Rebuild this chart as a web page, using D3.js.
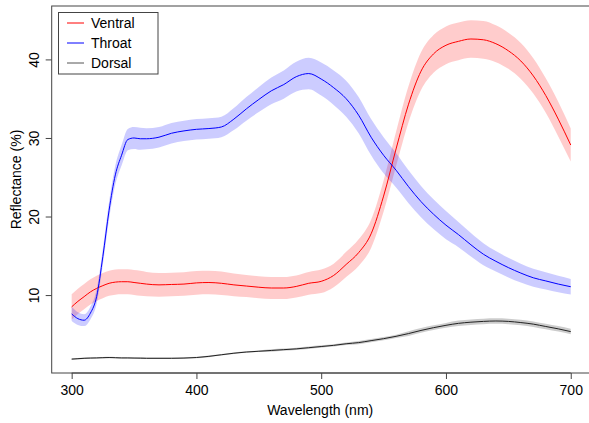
<!DOCTYPE html>
<meta charset="utf-8">
<head>
  <title>Reflectance spectra</title>
</head>

<style>
body { margin: 0; background: #fff; }
text {
  font-family: "Liberation Sans", Arial, Helvetica, sans-serif;
  font-size: 14px;
  fill: #000;
}
</style>

<body>
  <svg width="589" height="423"></svg>

  <script src="https://cdnjs.cloudflare.com/ajax/libs/d3/7.8.5/d3.min.js"></script>
  <script>
// wavelengths (nm), finer steps where the throat curve rises
var wavelength = [300,305,310,315,320,325,330,335,340,345,350,355,360,370,380,390,400,410,420,430,440,450,460,470,480,490,500,510,520,530,540,550,560,570,580,590,600,610,620,630,640,650,660,670,680,690,700];

// mean reflectance (%)
var ventral = [8.5,9.2,9.8,10.4,10.85,11.2,11.5,11.65,11.7,11.7,11.6,11.5,11.4,11.3,11.35,11.4,11.55,11.6,11.5,11.3,11.15,11.0,10.9,10.9,11.1,11.5,11.75,12.5,13.9,15.4,17.8,22.6,28.6,34.3,38.5,40.7,41.8,42.3,42.6,42.5,42.0,41.1,39.8,37.9,35.4,32.4,29.1];
var throat = [7.6,7.0,6.8,7.7,9.8,14.9,20.8,25.3,27.8,29.8,30.0,29.9,29.9,30.1,30.6,30.9,31.1,31.2,31.4,32.4,33.7,34.9,36.0,36.8,37.8,38.2,37.5,36.4,35.0,32.9,30.1,27.8,25.9,23.8,21.9,20.3,18.9,17.7,16.4,15.2,14.3,13.5,12.8,12.2,11.8,11.4,11.06];
var dorsal = [1.85,1.9,1.95,1.98,2.0,2.03,2.05,2.03,2.0,2.0,1.98,1.97,1.95,1.95,1.95,1.98,2.05,2.2,2.4,2.6,2.75,2.85,2.95,3.05,3.15,3.3,3.45,3.6,3.8,3.95,4.2,4.45,4.75,5.1,5.5,5.85,6.15,6.4,6.55,6.65,6.7,6.65,6.5,6.3,6.0,5.7,5.35];

// standard error (%)
var ventralSE = [1.6,1.6,1.6,1.6,1.6,1.6,1.6,1.6,1.6,1.6,1.6,1.6,1.55,1.5,1.5,1.5,1.5,1.5,1.5,1.45,1.4,1.4,1.4,1.4,1.4,1.45,1.5,1.5,1.6,1.7,1.8,2.0,2.2,2.3,2.4,2.4,2.4,2.4,2.4,2.4,2.35,2.3,2.3,2.25,2.2,2.2,2.1];
var throatSE = [0.9,0.8,0.75,0.8,0.9,1.0,1.1,1.2,1.3,1.35,1.4,1.4,1.35,1.3,1.3,1.3,1.3,1.3,1.3,1.4,1.5,1.6,1.7,1.8,1.9,2.0,2.1,2.2,2.3,2.3,2.3,2.3,2.2,2.1,2.0,1.9,1.8,1.6,1.5,1.4,1.3,1.25,1.2,1.15,1.1,1.05,1.0];
var dorsalSE = [0.1,0.1,0.1,0.1,0.1,0.1,0.1,0.1,0.1,0.1,0.1,0.1,0.1,0.1,0.1,0.1,0.1,0.1,0.1,0.1,0.1,0.1,0.15,0.15,0.15,0.15,0.15,0.15,0.15,0.2,0.2,0.2,0.2,0.3,0.3,0.3,0.3,0.35,0.35,0.35,0.35,0.35,0.35,0.35,0.35,0.35,0.35];

var xTicks = [300, 400, 500, 600, 700];
var yTicks = [10, 20, 30, 40];
var seriesNames = ['Ventral', 'Throat', 'Dorsal'];

var series = [
  { name: 'Ventral', mean: ventral, se: ventralSE, line: 'red', band: 'rgba(255,0,0,0.2)', key: 'red' },
  { name: 'Throat', mean: throat, se: throatSE, line: 'blue', band: 'rgba(0,0,255,0.2)', key: 'blue' },
  { name: 'Dorsal', mean: dorsal, se: dorsalSE, line: '#222', band: 'rgba(0,0,0,0.2)', key: '#555' }
];

var svg = d3.select('svg');

var x = d3.scaleLinear().domain([284, 716]).range([51.7, 590.7]);
var y = d3.scaleLinear().domain([0.08, 46.8]).range([373, 6]);

function points(s) {
  return wavelength.map(function(w, i) {
    return { w: w, v: s.mean[i], se: s.se[i] };
  });
}

var area = d3.area()
  .curve(d3.curveMonotoneX)
  .x(function(d) { return x(d.w); })
  .y0(function(d) { return y(d.v - d.se); })
  .y1(function(d) { return y(d.v + d.se); });

var line = d3.line()
  .curve(d3.curveMonotoneX)
  .x(function(d) { return x(d.w); })
  .y(function(d) { return y(d.v); });

// bands first, then the mean lines
series.forEach(function(s) {
  svg.append('path')
    .attr('d', area(points(s)))
    .attr('fill', s.band)
    .attr('stroke', 'none');
});
series.forEach(function(s) {
  svg.append('path')
    .attr('d', line(points(s)))
    .attr('fill', 'none')
    .attr('stroke', s.line)
    .attr('stroke-width', 1);
});

// box
svg.append('rect')
  .attr('x', x.range()[0])
  .attr('y', y.range()[1])
  .attr('width', x.range()[1] - x.range()[0])
  .attr('height', y.range()[0] - y.range()[1])
  .attr('fill', 'none')
  .attr('stroke', '#444')
  .attr('stroke-width', 1);

// x axis
var xAxis = svg.append('g')
  .attr('transform', 'translate(0,373)')
  .call(d3.axisBottom(x).tickValues(xTicks).tickSize(6).tickSizeOuter(0).tickPadding(6));
xAxis.select('.domain')
  .attr('d', 'M' + x(300) + ',0H' + x(700))
  .attr('stroke', '#444');
xAxis.selectAll('.tick line').attr('stroke', '#444');
xAxis.selectAll('.tick text')
  .attr('font-size', 13.6)
  .attr('font-family', '"Liberation Sans", Arial, sans-serif')
  .attr('fill', '#000');

// y axis
var yAxis = svg.append('g')
  .attr('transform', 'translate(51.7,0)')
  .call(d3.axisLeft(y).tickValues(yTicks).tickSize(6).tickSizeOuter(0).tickFormat(d3.format('d')));
yAxis.select('.domain').remove();
yAxis.selectAll('.tick line').attr('stroke', '#444');
yAxis.selectAll('.tick text')
  .attr('x', null)
  .attr('dy', null)
  .attr('transform', 'translate(-12.5,0) rotate(-90)')
  .attr('text-anchor', 'middle')
  .attr('font-size', 13.6)
  .attr('font-family', '"Liberation Sans", Arial, sans-serif')
  .attr('fill', '#000');

// axis titles
svg.append('text')
  .attr('x', (x.range()[0] + x.range()[1]) / 2 - 1)
  .attr('y', 414.5)
  .attr('text-anchor', 'middle')
  .text('Wavelength (nm)');

svg.append('text')
  .attr('transform', 'translate(20.5,' + ((y.range()[0] + y.range()[1]) / 2 - 10) + ') rotate(-90)')
  .attr('text-anchor', 'middle')
  .text('Reflectance (%)');

// legend
var legend = svg.append('g');
legend.append('rect')
  .attr('x', 58.5).attr('y', 12.5)
  .attr('width', 99.5).attr('height', 61.5)
  .attr('fill', '#fff')
  .attr('stroke', '#444');

var ly = d3.scalePoint().domain(seriesNames).range([23, 63]);
series.forEach(function(s) {
  legend.append('line')
    .attr('x1', 67).attr('x2', 84)
    .attr('y1', ly(s.name)).attr('y2', ly(s.name))
    .attr('stroke', s.key)
    .attr('stroke-width', 1);
  legend.append('text')
    .attr('x', 91)
    .attr('y', ly(s.name))
    .attr('dy', '0.35em')
    .text(s.name);
});
  </script>
</body>
</html>
